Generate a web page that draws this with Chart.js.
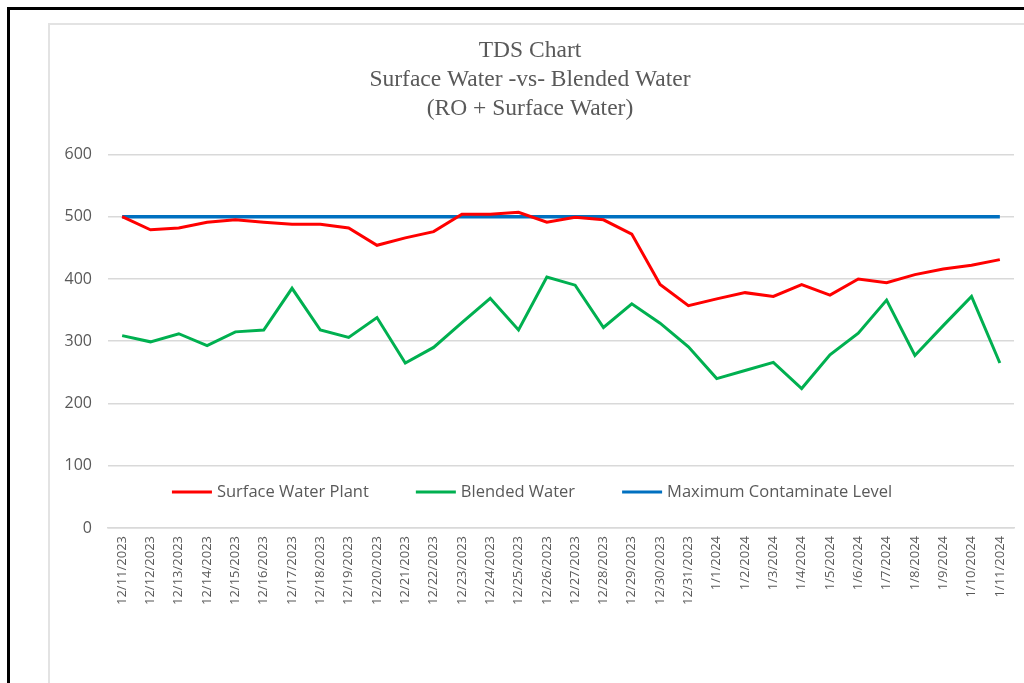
<!DOCTYPE html>
<html>
<head>
<meta charset="utf-8">
<script src="https://cdn.jsdelivr.net/npm/chart.js@4.4.1/dist/chart.umd.min.js"></script>
<style>
  html, body { margin: 0; padding: 0; background: #fff; }
  #wrap { position: relative; width: 1024px; height: 683px; overflow: hidden; }
  #outer { position: absolute; left: 7px; top: 7px; width: 1100px; height: 800px;
           border-left: 3px solid #000; border-top: 3px solid #000; }
  #inner { position: absolute; left: 48px; top: 23px; width: 1100px; height: 800px;
           border-left: 2px solid #e3e3e3; border-top: 2px solid #e3e3e3; }
  #tds { position: absolute; left: 0; top: 0; }
</style>
</head>
<body>
<div id="wrap">
  <div id="outer"></div>
  <div id="inner"></div>
  <canvas id="tds" width="1024" height="683"></canvas>
</div>
<script>
// dates on the x axis
const fechas = [
  '12/11/2023', '12/12/2023', '12/13/2023', '12/14/2023', '12/15/2023', '12/16/2023',
  '12/17/2023', '12/18/2023', '12/19/2023', '12/20/2023', '12/21/2023', '12/22/2023',
  '12/23/2023', '12/24/2023', '12/25/2023', '12/26/2023', '12/27/2023', '12/28/2023',
  '12/29/2023', '12/30/2023', '12/31/2023', '1/1/2024', '1/2/2024', '1/3/2024',
  '1/4/2024', '1/5/2024', '1/6/2024', '1/7/2024', '1/8/2024', '1/9/2024',
  '1/10/2024', '1/11/2024'
];

const surfaceWater = [
  500, 479, 482, 491, 495, 491, 488, 488, 482, 454, 466, 476,
  504, 504, 507, 491, 499, 495, 472, 391, 357, 368, 378, 372,
  391, 374, 400, 394, 407, 416, 422, 431
];

const blendedWater = [
  309, 299, 312, 293, 315, 318, 385, 318, 306, 338, 265, 290,
  330, 369, 318, 403, 390, 322, 360, 329, 291, 240, 253, 266,
  224, 278, 313, 366, 277, 325, 372, 265
];

const mcl = [
  500, 500, 500, 500, 500, 500, 500, 500, 500, 500, 500, 500,
  500, 500, 500, 500, 500, 500, 500, 500, 500, 500, 500, 500,
  500, 500, 500, 500, 500, 500, 500, 500
];

const yTicks = [0, 100, 200, 300, 400, 500, 600];

const tituloLineas = ['TDS Chart', 'Surface Water -vs- Blended Water', '(RO + Surface Water)'];

const grisTexto = '#595959';
const grisLinea = '#d9d9d9';

// legend drawn inside the plot area, between the 0 and 100 gridlines
const leyendaInterna = {
  id: 'leyendaInterna',
  afterDatasetsDraw(chart) {
    const ctx = chart.ctx;
    const yScale = chart.scales.y;
    const y = yScale.getPixelForValue(58);
    const lineLen = 40, gapTxt = 5, gapItem = 47;
    ctx.save();
    ctx.font = '16.5px "Open Sans"';
    ctx.textBaseline = 'middle';
    const items = chart.data.datasets.map(ds => ({
      label: ds.label, color: ds.borderColor, w: lineLen + gapTxt + ctx.measureText(ds.label).width
    }));
    const total = items.reduce((a, it) => a + it.w, 0) + gapItem * (items.length - 1);
    let x = 532 - total / 2;
    items.forEach(it => {
      ctx.strokeStyle = it.color;
      ctx.lineWidth = 3;
      ctx.beginPath();
      ctx.moveTo(x, y);
      ctx.lineTo(x + lineLen, y);
      ctx.stroke();
      ctx.fillStyle = grisTexto;
      ctx.fillText(it.label, x + lineLen + gapTxt, y);
      x += it.w + gapItem;
    });
    ctx.restore();
  }
};

const ctxTds = document.getElementById('tds');
new Chart(ctxTds, {
  type: 'line',
  data: {
    labels: fechas,
    datasets: [
      { label: 'Surface Water Plant', data: surfaceWater, borderColor: '#ff0000', borderWidth: 3 },
      { label: 'Blended Water', data: blendedWater, borderColor: '#00b050', borderWidth: 3 },
      { label: 'Maximum Contaminate Level', data: mcl, borderColor: '#0070c0', borderWidth: 3.5 }
    ]
  },
  options: {
    responsive: false,
    animation: false,
    elements: { point: { radius: 0 }, line: { tension: 0 } },
    layout: { padding: { left: 46, right: 10, top: 36, bottom: 76 } },
    plugins: {
      legend: { display: false },
      tooltip: { enabled: false },
      title: {
        display: true,
        text: tituloLineas,
        color: grisTexto,
        font: { family: '"Liberation Serif"', size: 23.5, weight: 'normal', lineHeight: 1.24 },
        padding: { top: 0, bottom: 31 }
      }
    },
    scales: {
      x: {
        offset: true,
        grid: { display: false, drawOnChartArea: false, drawTicks: true, tickLength: 6, color: grisLinea, offset: true },
        border: { color: grisLinea, width: 1.5 },
        ticks: {
          color: grisTexto,
          font: { family: '"Open Sans"', size: 13 },
          minRotation: 90, maxRotation: 90, autoSkip: false, padding: 2
        }
      },
      y: {
        min: 0, max: 600,
        afterBuildTicks(scale) { scale.ticks = yTicks.map(v => ({ value: v })); },
        afterFit(scale) { scale.width = 62; },
        grid: { color: grisLinea, lineWidth: 1.5, drawTicks: false },
        border: { display: false },
        ticks: { color: grisTexto, font: { family: '"Open Sans"', size: 16 }, padding: 16 }
      }
    }
  },
  plugins: [leyendaInterna]
});
</script>
</body>
</html>
